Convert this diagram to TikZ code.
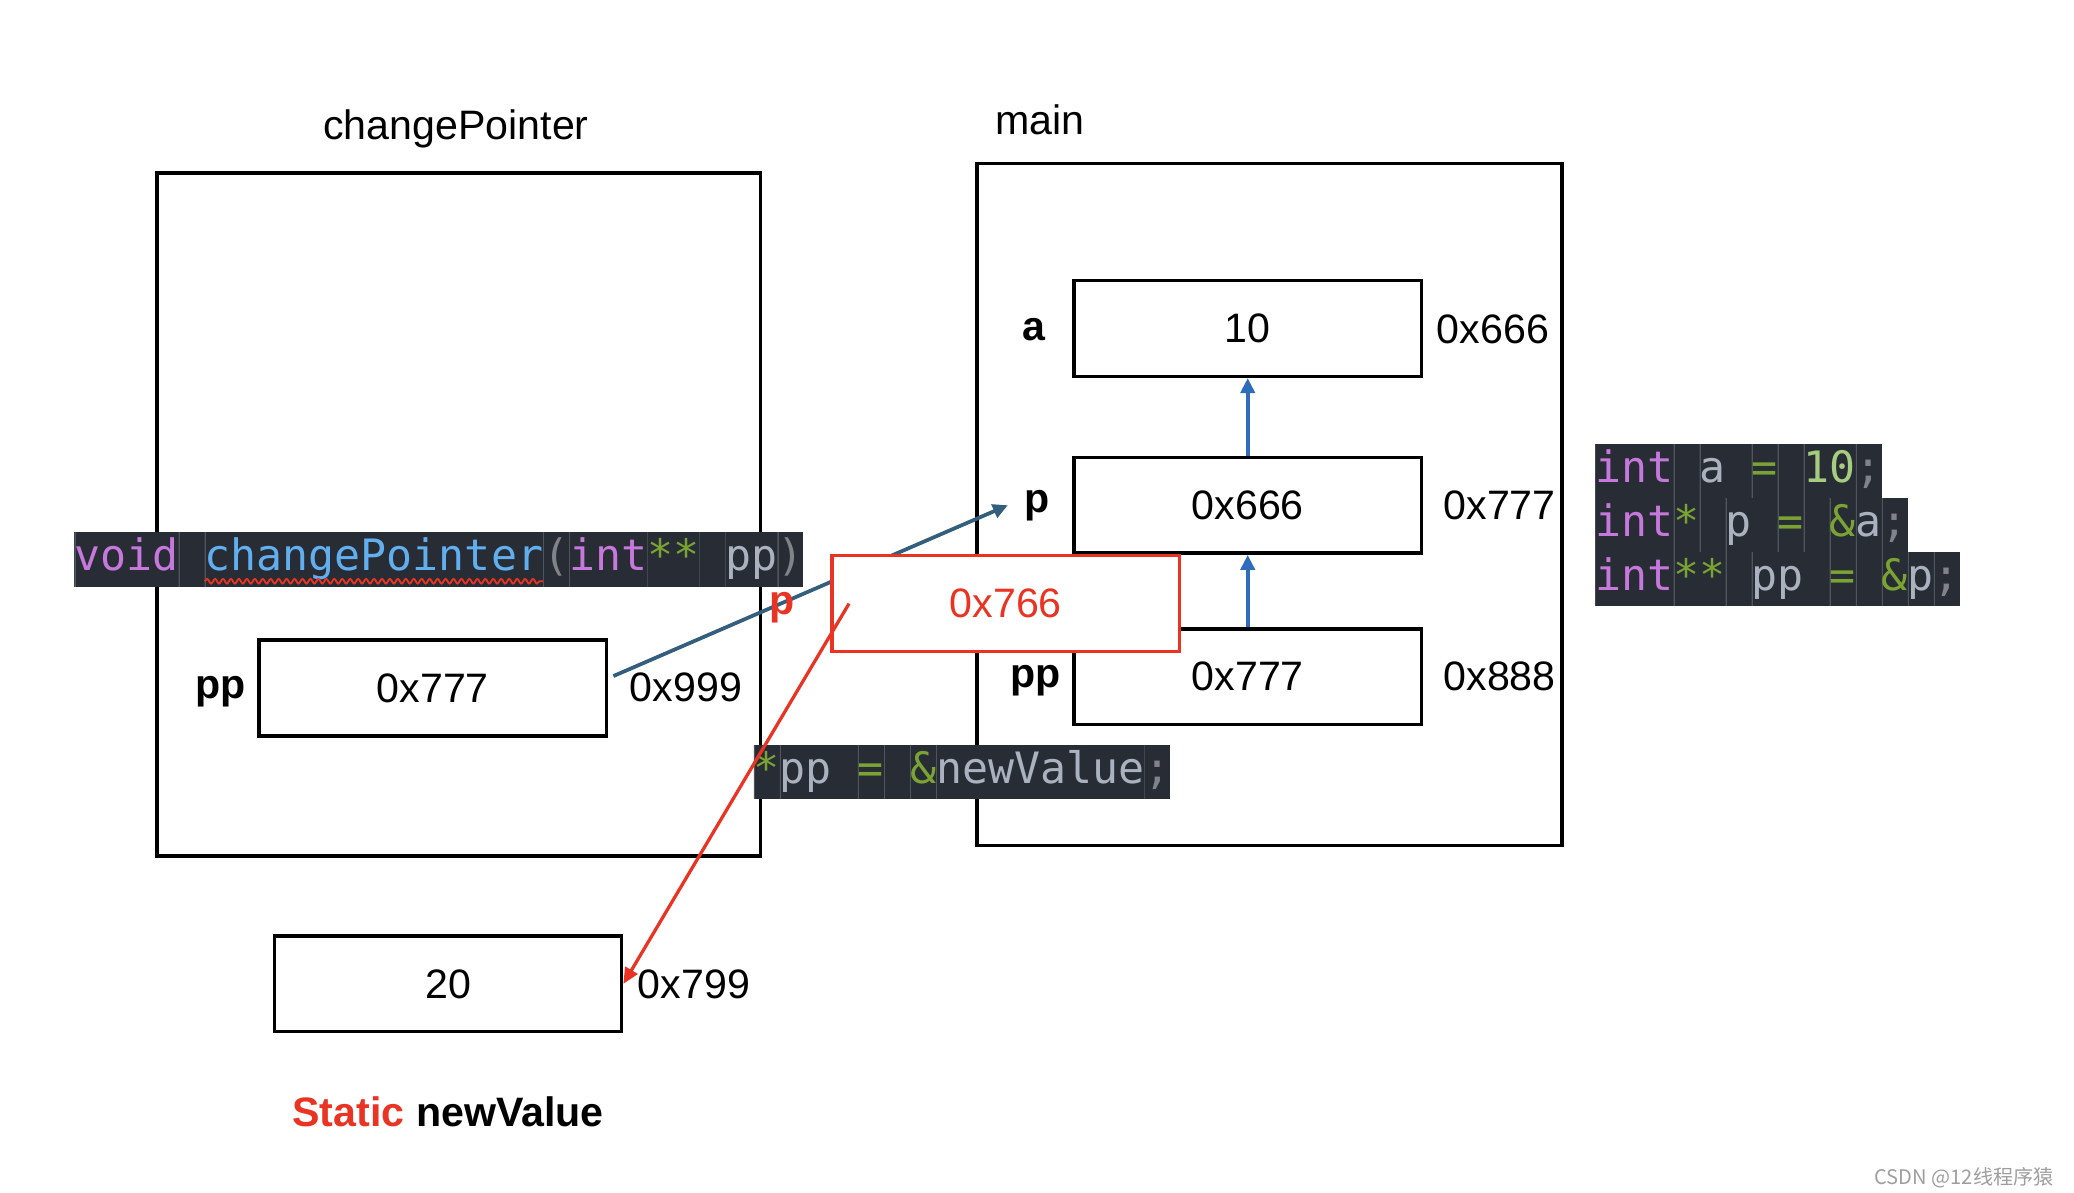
\documentclass[tikz,border=0pt]{standalone}
\usepackage{fontspec}
\setmainfont{Liberation Sans}
\newfontfamily\codefont{DejaVu Sans Mono}
\newfontfamily\cjk{Noto Sans CJK SC}
\usetikzlibrary{arrows.meta,positioning,decorations.pathmorphing}

\definecolor{codebg}{RGB}{40,44,52}
\definecolor{codesep}{RGB}{80,84,92}
\definecolor{kwcol}{RGB}{198,120,221}
\definecolor{fncol}{RGB}{97,175,239}
\definecolor{opcol}{RGB}{122,163,52}
\definecolor{numcol}{RGB}{166,204,128}
\definecolor{idcol}{RGB}{171,178,191}
\definecolor{pncol}{RGB}{128,131,137}
\definecolor{memred}{RGB}{233,51,35}
\definecolor{ptrblue}{RGB}{46,109,188}
\definecolor{linkblue}{RGB}{52,94,125}

\newcommand\valfont{\fontsize{8.8}{10.5}\selectfont}
\newcommand\csp{\phantom{x}}

\tikzset{
  frame/.style={draw,line width=0.75pt},
  cell/.style={draw,line width=0.75pt,fill=white,minimum width=2.61cm,minimum height=0.72cm,inner sep=0pt,font=\valfont},
  vname/.style={font=\valfont\bfseries},
  addr/.style={font=\valfont},
  tok/.style={fill=codebg,inner xsep=0pt,inner ysep=0pt,outer sep=0pt,minimum height=0.41cm,
    text height=7pt,text depth=2.2pt,font=\codefont\fontsize{9.25}{11}\selectfont,
    path picture={\draw[codesep,line width=0.45pt] (path picture bounding box.north west) -- (path picture bounding box.south west);}},
  codestart/.style={inner sep=0pt,outer sep=0pt,minimum size=0pt},
  ptr/.style={ptrblue,line width=0.8pt,-{Triangle[width=3pt,length=3.2pt]}},
  link/.style={linkblue,line width=0.8pt,-{Triangle[width=3pt,length=3.2pt]}},
  hot/.style={memred,line width=0.7pt,-{Triangle[width=3pt,length=3.4pt]}},
}

\begin{document}
\begin{tikzpicture}[x=0.01cm,y=-0.01cm]

    \useasboundingbox (0,0) rectangle (1560,896.6);

    % one row of code, cell by cell
    \def\codeline#1#2#3{%
      \node[codestart] (#10) at #2 {};
      \foreach \cc/\tx [count=\i] in {#3} {
        \pgfmathtruncatemacro\j{\i-1}
        \node[tok,text=\cc,right=0pt of #1\j] (#1\i) {\tx};
      }
    }

    % stack frames
    \draw[frame] (118,130) rectangle (572,644);
    \node[addr] (tCP) at (343,97) {changePointer};
    \draw[frame] (735,123) rectangle (1175,636);
    \node[addr] (tMain) at (782,90) {main};

    % main
    \node[cell] (boxA) at (938.5,247) {10};
    \node[vname] (lblA) at (778,248) {a};
    \node[addr] (adrA) at (1123,248) {0x666};

    \node[cell] (boxP) at (938.5,380) {0x666};
    \node[vname] (lblP) at (780,380) {p};
    \node[addr] (adrP) at (1128,380) {0x777};

    \node[cell] (boxPP) at (938.5,509) {0x777};
    \node[vname] (lblPP) at (779,512) {pp};
    \node[addr] (adrPP) at (1128,509) {0x888};

    \draw[ptr] (boxP.north) -- (boxA.south);
    \draw[ptr] (boxPP.north) -- (boxP.south);

    % changePointer
    \node[cell] (boxCP) at (325.5,517.5) {0x777};
    \node[vname] (lblCP) at (166,520) {pp};
    \node[addr] (adrCP) at (516,517) {0x999};

    % static
    \node[cell] (boxNew) at (337,740) {20};
    \node[addr] (adrNew) at (522,740) {0x799};
    \node[vname] (lblNew) at (337,836) {\textcolor{memred}{Static} newValue};

    % code
    \codeline{cv}{(56,421)}{kwcol/void, idcol/\csp, fncol/changePointer, pncol/{(}, kwcol/int, opcol/**, idcol/\csp, idcol/pp, pncol/{)}}
    \draw[memred,line width=0.4pt,decorate,decoration={snake,amplitude=0.5pt,segment length=1.7pt}] ([yshift=-2.2pt]cv3.base west) -- ([yshift=-2.2pt]cv3.base east);

    \codeline{ca}{(1200,354.4)}{kwcol/int, idcol/\csp, idcol/a\csp, opcol/=, idcol/\csp, numcol/10, pncol/;}
    \codeline{cb}{(1200,395)}{kwcol/int, opcol/*, idcol/\csp, idcol/p\csp, opcol/=, idcol/\csp, opcol/\&, idcol/a, pncol/;}
    \codeline{cc}{(1200,435.6)}{kwcol/int, opcol/**, idcol/\csp, idcol/pp\csp, opcol/=, idcol/\csp, opcol/\&, idcol/p, pncol/;}
    \codeline{cs}{(567,580.5)}{opcol/*, idcol/pp\csp, opcol/=, idcol/\csp, opcol/\&, idcol/newValue, pncol/;}

    % *pp = &newValue
    \draw[link] ([shift={(4,-9)}]boxCP.east) -- (lblP.west);
    \node[cell,draw=memred,text=memred] (boxRed) at (756.5,454) {0x766};
    \node[vname,text=memred] (lblRed) at (588,457) {p};
    \draw[hot] ([xshift=0.14cm]boxRed.west) -- (boxNew.east);

    \node[font=\cjk\fontsize{4.3}{5}\selectfont,text=black!38,anchor=east] (wm) at (1557,886) {CSDN @12线程序猿};

\end{tikzpicture}
\end{document}
